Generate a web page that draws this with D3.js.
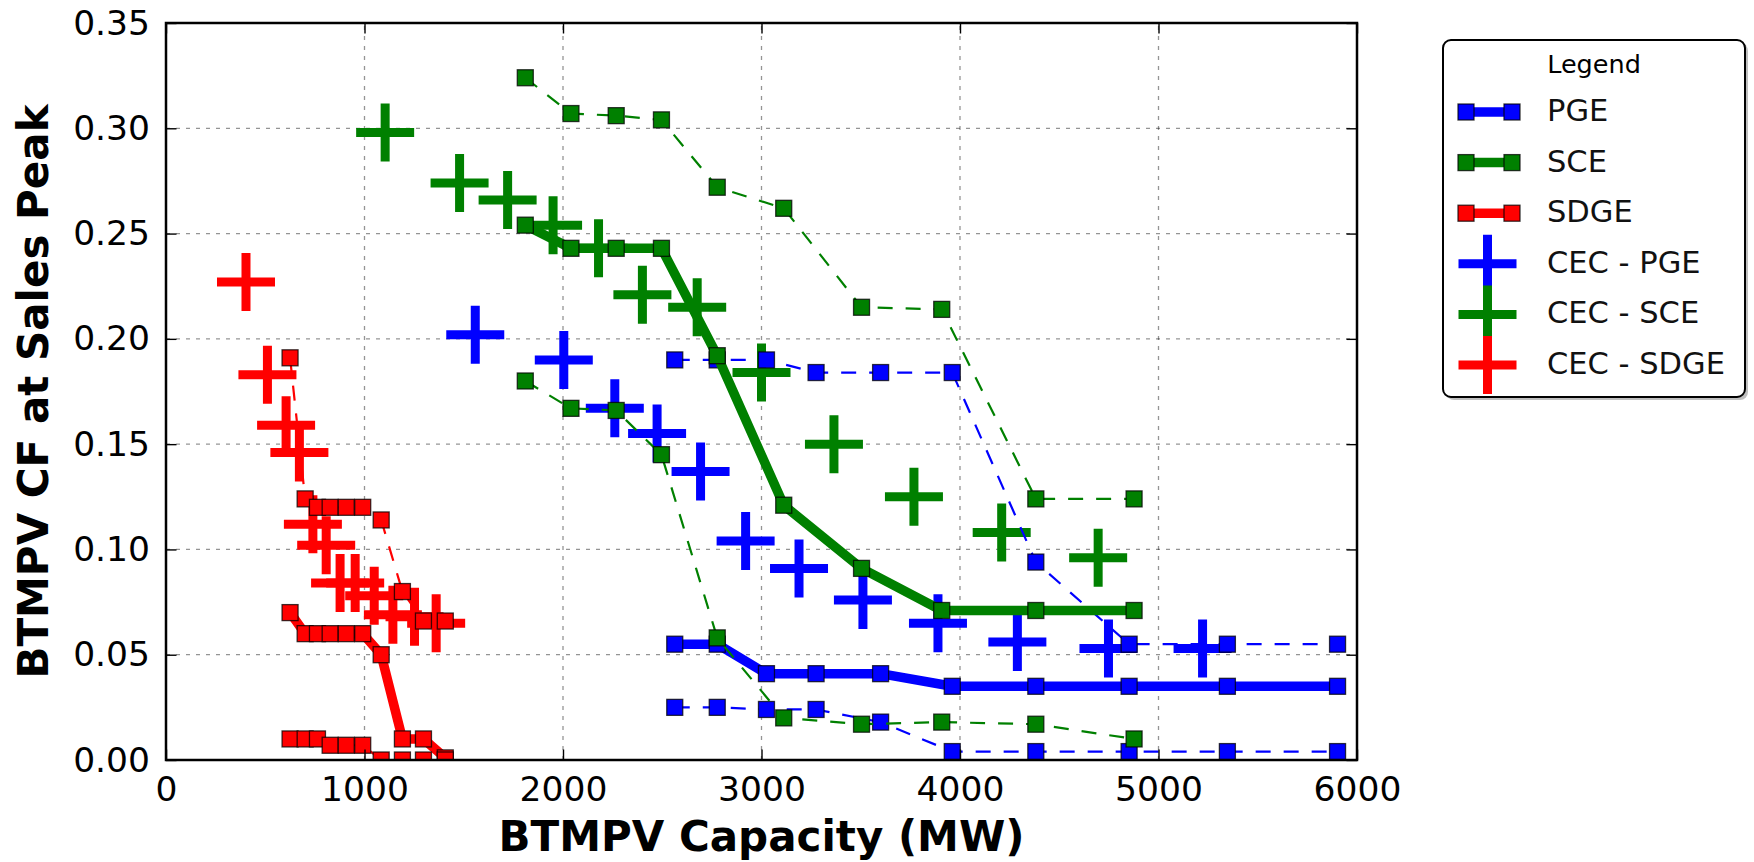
<!DOCTYPE html>
<html>
<head>
<meta charset="utf-8">
<script src="https://cdn.jsdelivr.net/npm/d3@7"></script>
<style>
  html, body { margin: 0; padding: 0; background: #fff; }
  svg { display: block; font-family: "DejaVu Sans", sans-serif; }
</style>
</head>
<body>
<svg id="chart" width="1754" height="862"></svg>
<script>
// BTMPV capacity (MW) and capacity factor at the sales peak, per utility.
// Each utility has a high / central / low scenario on a shared capacity grid.
const pgeCapacity = [2563, 2777, 3025, 3275, 3600, 3961, 4382, 4852, 5347, 5902];
const pgeHigh     = [0.190, 0.190, 0.190, 0.184, 0.184, 0.184, 0.094, 0.055, 0.055, 0.055];
const pgeMid      = [0.055, 0.055, 0.041, 0.041, 0.041, 0.035, 0.035, 0.035, 0.035, 0.035];
const pgeLow      = [0.025, 0.025, 0.024, 0.024, 0.018, 0.004, 0.004, 0.004, 0.004, 0.004];

const sceCapacity = [1810, 2040, 2268, 2496, 2777, 3112, 3504, 3908, 4382, 4877];
const sceHigh     = [0.324, 0.307, 0.306, 0.304, 0.272, 0.262, 0.215, 0.214, 0.124, 0.124];
const sceMid      = [0.254, 0.243, 0.243, 0.243, 0.192, 0.121, 0.091, 0.071, 0.071, 0.071];
const sceLow      = [0.180, 0.167, 0.166, 0.145, 0.058, 0.020, 0.017, 0.018, 0.017, 0.010];

const sdgeCapacity = [625, 701, 763, 827, 908, 991, 1084, 1191, 1297, 1407];
const sdgeHigh     = [0.191, 0.124, 0.120, 0.120, 0.120, 0.120, 0.114, 0.080, 0.066, 0.066];
const sdgeMid      = [0.070, 0.060, 0.060, 0.060, 0.060, 0.060, 0.050, 0.010, 0.010, 0.001];
const sdgeLow      = [0.010, 0.010, 0.010, 0.007, 0.007, 0.007, 0.000, 0.000, 0.000, 0.000];

// CEC forecast points
const cecPgeCapacity  = [1558, 2004, 2261, 2474, 2693, 2920, 3189, 3511, 3889, 4289, 4748, 5222];
const cecPgeCF        = [0.202, 0.190, 0.167, 0.155, 0.137, 0.104, 0.091, 0.076, 0.065, 0.056, 0.053, 0.053];
const cecSceCapacity  = [1104, 1479, 1721, 1950, 2179, 2400, 2676, 3000, 3365, 3768, 4210, 4696];
const cecSceCF        = [0.298, 0.274, 0.266, 0.254, 0.243, 0.221, 0.215, 0.184, 0.150, 0.125, 0.108, 0.096];
const cecSdgeCapacity = [403, 511, 605, 672, 740, 807, 877, 953, 1049, 1143, 1252, 1361];
const cecSdgeCF       = [0.227, 0.183, 0.159, 0.146, 0.112, 0.102, 0.084, 0.084, 0.078, 0.069, 0.068, 0.065];

const xTicks = [0, 1000, 2000, 3000, 4000, 5000, 6000];
const yTicks = [0, 0.05, 0.10, 0.15, 0.20, 0.25, 0.30, 0.35];

const legendLabels = ["PGE", "SCE", "SDGE", "CEC - PGE", "CEC - SCE", "CEC - SDGE"];

const BLUE = "#0000ff", GREEN = "#008000", RED = "#ff0000";

const svg = d3.select("#chart");
const x = d3.scaleLinear().domain([0, 6000]).range([166, 1357]);
const y = d3.scaleLinear().domain([0, 0.35]).range([760, 23]);
const [x0, x1] = x.range();
const [y0, y1] = y.range();

svg.append("defs").append("clipPath").attr("id", "plotClip")
  .append("rect").attr("x", x0).attr("y", y1).attr("width", x1 - x0).attr("height", y0 - y1);

// grid
const grid = svg.append("g").attr("stroke", "#000").attr("stroke-opacity", 0.42)
  .attr("stroke-width", 1.3).attr("stroke-dasharray", "4,6");
grid.selectAll("line.gx").data(xTicks.slice(1, -1)).join("line").attr("class", "gx")
  .attr("x1", d => x(d)).attr("x2", d => x(d)).attr("y1", y0).attr("y2", y1);
grid.selectAll("line.gy").data(yTicks.slice(1, -1)).join("line").attr("class", "gy")
  .attr("x1", x0).attr("x2", x1).attr("y1", d => y(d)).attr("y2", d => y(d));

const plot = svg.append("g").attr("clip-path", "url(#plotClip)");

// CEC forecast crosses
const CROSS = 29;
const crossPath = `M${-CROSS},0H${CROSS}M0,${-CROSS}V${CROSS}`;
function crosses(xs, ys, color) {
  plot.append("g").selectAll("path").data(xs.map((v, i) => [v, ys[i]])).join("path")
    .attr("d", crossPath)
    .attr("transform", d => `translate(${x(d[0])},${y(d[1])})`)
    .attr("stroke", color).attr("stroke-width", 9).attr("fill", "none");
}
crosses(cecPgeCapacity, cecPgeCF, BLUE);
crosses(cecSceCapacity, cecSceCF, GREEN);
crosses(cecSdgeCapacity, cecSdgeCF, RED);

// scenario lines with square markers
const line = d3.line().x(d => x(d[0])).y(d => y(d[1]));
const SQ = 16;
function series(xs, ys, color, solid) {
  const pts = xs.map((v, i) => [v, ys[i]]);
  const g = plot.append("g");
  g.append("path").datum(pts).attr("d", line)
    .attr("fill", "none").attr("stroke", color)
    .attr("stroke-width", solid ? 9.5 : 2.2)
    .attr("stroke-dasharray", solid ? null : "15,13")
    .attr("stroke-linejoin", "round");
  g.selectAll("rect").data(pts).join("rect")
    .attr("x", d => x(d[0]) - SQ / 2).attr("y", d => y(d[1]) - SQ / 2)
    .attr("width", SQ).attr("height", SQ)
    .attr("fill", color).attr("stroke", "#000").attr("stroke-opacity", 0.75).attr("stroke-width", 1.3);
}
series(pgeCapacity, pgeHigh, BLUE, false);
series(pgeCapacity, pgeMid, BLUE, true);
series(pgeCapacity, pgeLow, BLUE, false);
series(sceCapacity, sceHigh, GREEN, false);
series(sceCapacity, sceMid, GREEN, true);
series(sceCapacity, sceLow, GREEN, false);
series(sdgeCapacity, sdgeHigh, RED, false);
series(sdgeCapacity, sdgeMid, RED, true);
series(sdgeCapacity, sdgeLow, RED, false);

// axes: ticks point inward on all four sides
const TICK = 10.5;
function styleAxis(g, fontSize) {
  g.attr("font-family", "DejaVu Sans, sans-serif").attr("font-size", fontSize);
  g.select(".domain").remove();
  g.selectAll(".tick line").attr("stroke", "#000").attr("stroke-width", 1.4);
  g.selectAll(".tick text").attr("fill", "#000");
}
svg.append("g").attr("transform", `translate(0,${y0})`)
  .call(d3.axisBottom(x).tickValues(xTicks).tickFormat(d3.format("d")).tickSizeInner(-TICK).tickSizeOuter(0).tickPadding(16.5))
  .call(g => styleAxis(g, 34.5));
svg.append("g").attr("transform", `translate(0,${y1})`)
  .call(d3.axisTop(x).tickValues(xTicks).tickFormat("").tickSizeInner(-TICK).tickSizeOuter(0))
  .call(g => styleAxis(g, 10));
svg.append("g").attr("transform", `translate(${x0},0)`)
  .call(d3.axisLeft(y).tickValues(yTicks).tickFormat(d3.format(".2f")).tickSizeInner(-TICK).tickSizeOuter(0).tickPadding(16))
  .call(g => styleAxis(g, 34.5));
svg.append("g").attr("transform", `translate(${x1},0)`)
  .call(d3.axisRight(y).tickValues(yTicks).tickFormat("").tickSizeInner(-TICK).tickSizeOuter(0))
  .call(g => styleAxis(g, 10));

// frame
svg.append("rect").attr("x", x0).attr("y", y1).attr("width", x1 - x0).attr("height", y0 - y1)
  .attr("fill", "none").attr("stroke", "#000").attr("stroke-width", 2.5);

// axis titles
svg.append("text").attr("x", (x0 + x1) / 2).attr("y", 851)
  .attr("text-anchor", "middle").attr("font-size", 42).attr("font-weight", "bold")
  .text("BTMPV Capacity (MW)");
svg.append("text").attr("transform", `translate(48,${(y0 + y1) / 2}) rotate(-90)`)
  .attr("text-anchor", "middle").attr("font-size", 42).attr("font-weight", "bold")
  .text("BTMPV CF at Sales Peak");

// legend
const lg = svg.append("g");
const LX = 1443, LY = 40, LW = 302, LH = 357;
lg.append("rect").attr("x", LX + 3).attr("y", LY + 3).attr("width", LW).attr("height", LH)
  .attr("rx", 8).attr("fill", "#000").attr("opacity", 0.25);
lg.append("rect").attr("x", LX).attr("y", LY).attr("width", LW).attr("height", LH)
  .attr("rx", 8).attr("fill", "#fff").attr("stroke", "#000").attr("stroke-width", 2);
lg.append("text").attr("x", LX + LW / 2).attr("y", 72.5).attr("text-anchor", "middle")
  .attr("font-size", 25.5).text("Legend");

const legendColors = [BLUE, GREEN, RED, BLUE, GREEN, RED];
const rowY = i => 112 + i * 50.6;
legendLabels.forEach((label, i) => {
  const cy = rowY(i);
  const c = legendColors[i];
  if (i < 3) {
    lg.append("line").attr("x1", 1466).attr("x2", 1512).attr("y1", cy).attr("y2", cy)
      .attr("stroke", c).attr("stroke-width", 9.5);
    [1466, 1512].forEach(cx => lg.append("rect")
      .attr("x", cx - SQ / 2).attr("y", cy - SQ / 2).attr("width", SQ).attr("height", SQ)
      .attr("fill", c).attr("stroke", "#000").attr("stroke-opacity", 0.75).attr("stroke-width", 1.3));
  } else {
    lg.append("path").attr("d", crossPath).attr("transform", `translate(1487.5,${cy})`)
      .attr("stroke", c).attr("stroke-width", 9).attr("fill", "none");
  }
  lg.append("text").attr("x", 1547).attr("y", cy + 9).attr("font-size", 30.5).attr("fill", "#111").text(label);
});
</script>
</body>
</html>
